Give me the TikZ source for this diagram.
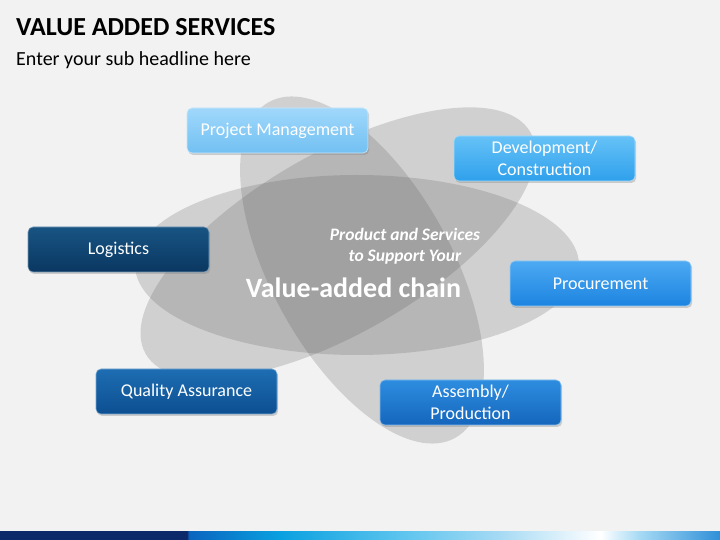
\documentclass[tikz,border=0pt]{standalone}
\usepackage{fontspec}
\setmainfont{Carlito}
\usetikzlibrary{shadows}

\definecolor{bgGray}{HTML}{F2F2F2}
\definecolor{petalGray}{HTML}{5A5A5A}
\definecolor{pmTop}{HTML}{A0D8FB}
\definecolor{pmBot}{HTML}{72C0F2}
\definecolor{dcTop}{HTML}{66C2F7}
\definecolor{dcBot}{HTML}{2FA0EC}
\definecolor{prTop}{HTML}{4DA9F2}
\definecolor{prBot}{HTML}{1C84E0}
\definecolor{apTop}{HTML}{2E8DE0}
\definecolor{apBot}{HTML}{1466BC}
\definecolor{qaTop}{HTML}{1E6DB3}
\definecolor{qaBot}{HTML}{0C4F91}
\definecolor{lgTop}{HTML}{185483}
\definecolor{lgBot}{HTML}{0A3761}
\definecolor{barNavy}{HTML}{0C2A6A}
\definecolor{barBlue}{HTML}{0A64BE}
\definecolor{barCyan}{HTML}{0AA0E0}
\definecolor{barSky}{HTML}{5CC4EE}
\definecolor{barPale}{HTML}{A6DAF4}
\definecolor{barEnd}{HTML}{2F8FD8}

\pgfdeclarehorizontalshading{barShade}{100bp}{color(0bp)=(barNavy); color(38bp)=(barNavy); color(38.1bp)=(barBlue); color(44.4bp)=(barCyan); color(52.8bp)=(barSky); color(59.7bp)=(barPale); color(66.7bp)=(white); color(69.4bp)=(barPale); color(75bp)=(barEnd); color(100bp)=(barEnd)}

\begin{document}
\begin{tikzpicture}[x=1pt,y=1pt,
  service/.style n args={2}{rounded corners=5pt, minimum width=181pt, minimum height=45pt,
    inner sep=2pt, align=center, text=white, font=\fontsize{18}{22}\selectfont,
    top color=#1, bottom color=#2, draw=#1!60!white, line width=0.6pt,
    drop shadow={shadow xshift=1.2pt, shadow yshift=-2pt, opacity=0.35}},
  petal/.style={fill=petalGray, fill opacity=0.22}]

\fill[bgGray] (0,0) rectangle (720,540);
\useasboundingbox (0,0) rectangle (720,540);

% heading
\node[anchor=base west, inner sep=0pt, font=\fontsize{26}{30}\selectfont\bfseries] (title) at (16,504) {VALUE ADDED SERVICES};
\node[anchor=base west, inner sep=0pt, font=\fontsize{20}{24}\selectfont] (sub) at (16,474) {Enter your sub headline here};

% three overlapping petals
\fill[petal] (357,275) ellipse [x radius=222pt, y radius=90pt];
\fill[petal, rotate around={30:(338,297)}] (338,297) ellipse [x radius=222pt, y radius=90pt];
\fill[petal, rotate around={-61:(362,270)}] (362,270) ellipse [x radius=192pt, y radius=90pt];

% centre text
\node[text=white, align=center, font=\fontsize{17.5}{21}\selectfont\bfseries\itshape] (support) at (405,294) {Product and Services\\to Support Your};
\node[text=white, font=\fontsize{28}{32}\selectfont\bfseries] (chain) at (353.5,252) {Value-added chain};

% service boxes
\node[service={pmTop}{pmBot}] (PM) at (277.5,409.5) {Project Management};
\node[service={dcTop}{dcBot}] (DC) at (544.5,381.5) {Development/\\Construction};
\node[service={prTop}{prBot}] (PR) at (600.5,256.5) {Procurement};
\node[service={apTop}{apBot}] (AP) at (470.5,137.5) {Assembly/\\Production};
\node[service={qaTop}{qaBot}] (QA) at (186.5,148.5) {Quality Assurance};
\node[service={lgTop}{lgBot}] (LG) at (118.5,290.5) {Logistics};

% footer bar
\draw[white, line width=1pt] (0,8.5) -- (720,8.5);
\shade[shading=barShade] (0,0) rectangle (720,8);

\end{tikzpicture}
\end{document}
